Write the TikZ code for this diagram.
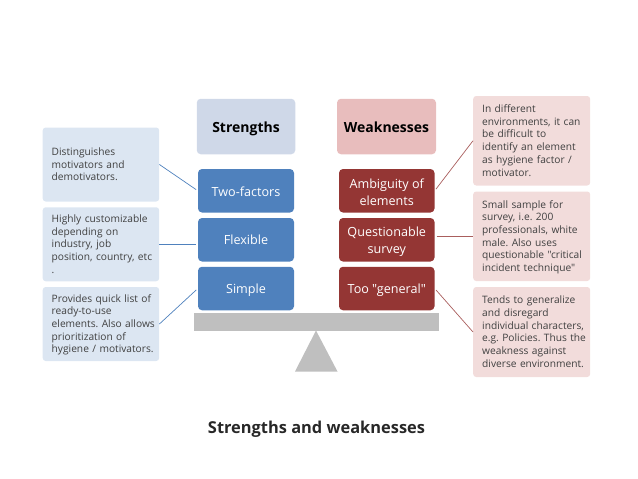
\documentclass[tikz,border=0pt]{standalone}
\usepackage{fontspec}
\setmainfont{Open Sans}
\newfontfamily\plainquotes{Open Sans}
\frenchspacing
\definecolor{hblue}{HTML}{CFD8E8}
\definecolor{hred}{HTML}{E8BDBD}
\definecolor{mblue}{HTML}{4F81BD}
\definecolor{mred}{HTML}{943634}
\definecolor{lblue}{HTML}{DCE6F2}
\definecolor{lred}{HTML}{F2DCDB}
\definecolor{beam}{HTML}{BFBFBF}
\definecolor{txt}{HTML}{404040}
% centred text of fixed vertical placement; #1 moves it against the node centre
\newcommand{\lift}[2]{\raisebox{#1}[0pt][0pt]{\begin{tabular}{@{}c@{}}#2\end{tabular}}}
% left-aligned lines, indented inside a note
\newcommand{\nt}[1]{\hspace*{9pt}\raisebox{-3.5pt}[0pt][0pt]{\begin{tabular}{@{}l@{}}#1\end{tabular}}}
\tikzset{
  x=1pt,y=-1pt,
  box/.style={rounded corners=4pt,inner sep=0pt,align=center},
  head/.style={box,font=\fontsize{14}{16}\selectfont\bfseries,text=black,minimum height=55.5pt},
  item/.style={box,font=\plainquotes\fontsize{12.6}{16.4}\selectfont,text=white,minimum height=43.5pt},
  bluebox/.style={item,fill=mblue,minimum width=96pt},
  redbox/.style={item,fill=mred,minimum width=95.5pt},
  note/.style={rounded corners=3pt,inner sep=0pt,align=left,anchor=west,
    font=\plainquotes\fontsize{10.2}{12.7}\selectfont,text=txt},
  leftnote/.style={note,fill=lblue,text width=116.5pt,minimum height=74pt},
  rightnote/.style={note,fill=lred,text width=117pt,minimum height=89.5pt},
  lnkb/.style={line width=0.7pt,color=mblue,shorten >=2pt},
  lnkr/.style={line width=0.7pt,color=mred!80!white,shorten <=2pt}
}
\begin{document}
\begin{tikzpicture}
\useasboundingbox (0,0) rectangle (638,479);
% beam and fulcrum
\fill[beam] (193.5,312.5) rectangle (439,330.5);
\fill[beam] (316,330.5) -- (337.5,371.5) -- (295,371.5) -- cycle;
% headers
\node[head,fill=hblue,minimum width=98.5pt] (hs) at (246,126.5) {\lift{-6pt}{Strengths}};
\node[head,fill=hred,minimum width=99pt] (hw) at (386.5,126.5) {\lift{-6pt}{Weaknesses}};
% items
\node[bluebox] (a1) at (246,190.75) {\lift{-5pt}{Two-factors}};
\node[bluebox] (a2) at (246,239.75) {\lift{-4pt}{Flexible}};
\node[bluebox] (a3) at (246,288.5) {\lift{-5pt}{Simple}};
\node[redbox] (b1) at (386.75,190.75) {\lift{-6pt}{Ambiguity of\\elements}};
\node[redbox] (b2) at (386.75,239.75) {\lift{-5pt}{Questionable\\survey}};
\node[redbox] (b3) at (386.75,288.5) {\lift{-5pt}{Too "general"}};
% notes
\node[leftnote] (l1) at (42.5,164.5) {\nt{Distinguishes\\motivators and\\demotivators.}};
\node[leftnote] (l2) at (42.5,244.25) {\nt{Highly customizable\\depending on\\industry, job\\position, country, etc\\.}};
\node[leftnote] (l3) at (42.5,324) {\nt{Provides quick list of\\ready-to-use\\elements. Also allows\\prioritization of\\hygiene / motivators.}};
\node[rightnote] (r1) at (473,140.75) {\nt{In different\\environments, it can\\be difficult to\\identify an element\\as hygiene factor /\\motivator.}};
\node[rightnote] (r2) at (473,236.25) {\nt{Small sample for\\survey, i.e. 200\\professionals, white\\male. Also uses\\questionable "critical\\incident technique"}};
\node[rightnote,minimum height=90pt] (r3) at (473,332) {\nt{Tends to generalize\\and disregard\\individual characters,\\e.g. Policies. Thus the\\weakness against\\diverse environment.}};
% connectors
\draw[lnkb] (l1.east) -- (a1.west);
\draw[lnkb] (l2.east) -- (l2.east -| a2.west);
\draw[lnkb] (l3.east) -- (a3.west);
\draw[lnkr] (b1.east) -- (r1.west);
\draw[lnkr] (r2.west -| b2.east) -- (r2.west);
\draw[lnkr] (b3.east) -- (r3.west);
% title
\node[font=\fontsize{16.4}{19}\selectfont\bfseries,text=txt!60!black] (title) at (316.5,429) {Strengths and weaknesses};
\end{tikzpicture}
\end{document}
